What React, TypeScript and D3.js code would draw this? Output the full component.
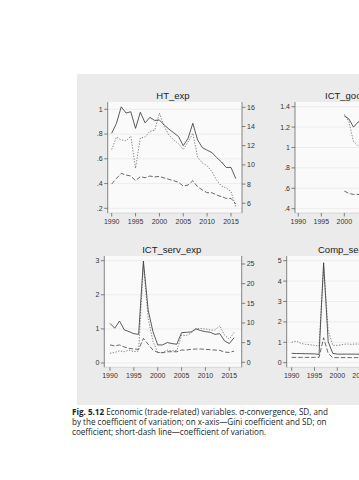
import React from "react";
import * as d3 from "d3";

// ---------- data ----------
const yearsFull = d3.range(1990, 2017);

// HT_exp
const htGini = [0.806, 0.887, 1.02, 0.97, 0.98, 0.846, 0.976, 0.89, 0.935, 0.91, 0.914, 0.873, 0.84, 0.81, 0.78, 0.706, 0.765, 0.887, 0.752, 0.69, 0.67, 0.65, 0.61, 0.574, 0.53, 0.53, 0.44];
const htSD = [0.396, 0.442, 0.482, 0.469, 0.461, 0.423, 0.456, 0.447, 0.461, 0.453, 0.458, 0.445, 0.434, 0.423, 0.41, 0.38, 0.388, 0.423, 0.374, 0.348, 0.326, 0.326, 0.307, 0.294, 0.28, 0.28, 0.235];
const htCV = [11.6, 12.9, 12.6, 12.5, 13.0, 9.65, 12.8, 12.9, 13.5, 13.6, 15.4, 14.0, 13.1, 12.6, 12.2, 11.6, 12.4, 13.3, 10.8, 10.2, 9.9, 9.3, 8.4, 7.8, 7.6, 7.2, 5.65];

// ICT_goods_exp (only the visible part, from 2000)
const goodsYears = [2000, 2001, 2002, 2003, 2004, 2005];
const goodsGini = [1.31, 1.28, 1.2, 1.25, 1.27, 1.24];
const goodsSD = [0.573, 0.55, 0.54, 0.54, 0.54, 0.53];
const goodsCV = [1.325, 1.253, 1.057, 1.015, 0.99, 0.97];

// ICT_serv_exp
const servGini = [1.16, 1.02, 1.23, 0.97, 0.92, 0.86, 0.84, 2.99, 1.55, 0.92, 0.53, 0.53, 0.6, 0.57, 0.55, 0.89, 0.9, 0.91, 1.0, 0.95, 0.92, 0.9, 0.84, 0.86, 0.65, 0.57, 0.74];
const servSD = [0.53, 0.5, 0.53, 0.47, 0.43, 0.41, 0.4, 0.72, 0.55, 0.38, 0.31, 0.3, 0.33, 0.33, 0.33, 0.38, 0.38, 0.4, 0.41, 0.41, 0.4, 0.39, 0.38, 0.37, 0.32, 0.31, 0.35];
const servCV = [2.3, 2.5, 2.9, 2.7, 3.1, 2.7, 2.9, 24.9, 11.2, 5.3, 2.5, 2.5, 3.1, 2.9, 3.0, 6.9, 6.8, 7.4, 8.6, 8.6, 8.5, 8.2, 8.2, 9.3, 6.9, 5.9, 7.6];

// Comp_serv_exp (visible part)
const compYears = d3.range(1990, 2006);
const compGini = [0.46, 0.45, 0.45, 0.44, 0.44, 0.43, 0.41, 4.9, 1.03, 0.46, 0.42, 0.42, 0.42, 0.42, 0.42, 0.42];
const compSD = [0.26, 0.26, 0.26, 0.26, 0.26, 0.26, 0.26, 1.22, 0.46, 0.25, 0.25, 0.25, 0.25, 0.25, 0.25, 0.25];
const compCV = [1.0, 1.06, 0.95, 0.9, 0.88, 0.85, 0.82, 4.7, 1.6, 0.85, 0.85, 0.88, 0.92, 0.9, 0.92, 0.9];

const xTicks = [1990, 1995, 2000, 2005, 2010, 2015];

const captionLines = [
  ["Fig. 5.12", " Economic (trade-related) variables. σ-convergence, SD, and"],
  ["", "by the coefficient of variation; on x-axis—Gini coefficient and SD; on"],
  ["", "coefficient; short-dash line—coefficient of variation."],
];

const fmt = (v: number) => {
  const s = d3.format("~g")(+v.toFixed(4));
  return s.replace(/^0\./, ".");
};

type PanelProps = {
  title: string;
  titleX: number;
  titleY: number;
  titleAnchor: "middle" | "start";
  rect: [number, number, number, number];
  x: d3.ScaleLinear<number, number>;
  yL: d3.ScaleLinear<number, number>;
  yR: d3.ScaleLinear<number, number> | null;
  leftTicks: number[];
  rightTicks: number[];
  years: number[];
  gini: number[];
  sd: number[];
  cv: number[];
  cvScale: d3.ScaleLinear<number, number>;
};

const Panel = (p: PanelProps) => {
  const [x0, y0, x1, y1] = p.rect;
  const line = (ys: number[], s: d3.ScaleLinear<number, number>) =>
    d3.line<number>().x((_, i) => p.x(p.years[i])).y((v) => s(v))(ys) || "";
  const axisColor = "#555";
  const labelColor = "#333";
  const ticks = xTicks.filter((t) => p.x(t) < 362);
  return (
    <g>
      <rect x={x0} y={y0} width={x1 - x0} height={y1 - y0} fill="#fafafa" />
      {p.leftTicks.map((t) => (
        <line key={"g" + t} x1={x0} x2={x1} y1={p.yL(t)} y2={p.yL(t)} stroke="#e4e4e4" strokeWidth={0.6} />
      ))}
      <line x1={x0} x2={x0} y1={y0} y2={y1} stroke={axisColor} strokeWidth={0.7} />
      {p.yR && <line x1={x1} x2={x1} y1={y0} y2={y1} stroke={axisColor} strokeWidth={0.7} />}
      <line x1={x0} x2={x1} y1={y1} y2={y1} stroke="#bbb" strokeWidth={0.5} />
      {p.leftTicks.map((t) => (
        <g key={"l" + t}>
          <line x1={x0 - 3.5} x2={x0} y1={p.yL(t)} y2={p.yL(t)} stroke={axisColor} strokeWidth={0.7} />
          <text x={x0 - 5} y={p.yL(t) + 2.4} fontSize={7} textAnchor="end" fill={labelColor}>{fmt(t)}</text>
        </g>
      ))}
      {p.yR && p.rightTicks.map((t) => (
        <g key={"r" + t}>
          <line x1={x1} x2={x1 + 3.5} y1={p.yR!(t)} y2={p.yR!(t)} stroke={axisColor} strokeWidth={0.7} />
          <text x={x1 + 5} y={p.yR!(t) + 2.4} fontSize={7} textAnchor="start" fill={labelColor}>{fmt(t)}</text>
        </g>
      ))}
      {ticks.map((t) => (
        <g key={"x" + t}>
          <line x1={p.x(t)} x2={p.x(t)} y1={y1} y2={y1 + 3.5} stroke={axisColor} strokeWidth={0.7} />
          <text x={p.x(t)} y={y1 + 10.5} fontSize={7} textAnchor="middle" fill={labelColor}>{t}</text>
        </g>
      ))}
      <path d={line(p.cv, p.cvScale)} fill="none" stroke="#666" strokeWidth={0.8} strokeDasharray="1.3,1.5" />
      <path d={line(p.sd, p.yL)} fill="none" stroke="#444" strokeWidth={0.8} strokeDasharray="4.5,2" />
      <path d={line(p.gini, p.yL)} fill="none" stroke="#333" strokeWidth={0.8} />
      <text x={p.titleX} y={p.titleY} fontSize={9.5} textAnchor={p.titleAnchor} fill="#222">{p.title}</text>
    </g>
  );
};

export default function App() {
  // panel 1: HT_exp
  const x1 = d3.scaleLinear().domain([1990, 2015]).range([111.7, 231]);
  const yl1 = d3.scaleLinear().domain([0.2, 1]).range([208.3, 109.3]);
  const yr1 = d3.scaleLinear().domain([6, 16]).range([203.3, 107.3]);
  // panel 2: ICT_goods_exp
  const x2 = d3.scaleLinear().domain([1990, 2000]).range([298.3, 344.3]);
  const yl2 = d3.scaleLinear().domain([0.4, 1.4]).range([208.7, 106.7]);
  // panel 3: ICT_serv_exp
  const x3 = d3.scaleLinear().domain([1990, 2015]).range([110, 229.3]);
  const yl3 = d3.scaleLinear().domain([0, 3]).range([363, 260.7]);
  const yr3 = d3.scaleLinear().domain([0, 25]).range([362.3, 264]);
  // panel 4: Comp_serv_exp
  const x4 = d3.scaleLinear().domain([1990, 2000]).range([291.7, 337.3]);
  const yl4 = d3.scaleLinear().domain([0, 5]).range([362.7, 260.7]);

  return (
    <svg width={359} height={480} style={{ position: "absolute", left: 0, top: 0, fontFamily: "'Liberation Sans', Arial, sans-serif" }}>
      <rect x={0} y={0} width={359} height={480} fill="#fff" />
      <rect x={77} y={74} width={300} height={331} fill="#ebebeb" />
      <Panel title="HT_exp" titleX={173} titleY={99} titleAnchor="middle" rect={[107.7, 102, 242, 213]} x={x1} yL={yl1} yR={yr1}
        leftTicks={[0.2, 0.4, 0.6, 0.8, 1]} rightTicks={[6, 8, 10, 12, 14, 16]} years={yearsFull} gini={htGini} sd={htSD} cv={htCV} cvScale={yr1} />
      <Panel title="ICT_goods_exp" titleX={325} titleY={99} titleAnchor="start" rect={[295, 102, 440, 213]} x={x2} yL={yl2} yR={null}
        leftTicks={[0.4, 0.6, 0.8, 1, 1.2, 1.4]} rightTicks={[]} years={goodsYears} gini={goodsGini} sd={goodsSD} cv={goodsCV} cvScale={yl2} />
      <Panel title="ICT_serv_exp" titleX={171.7} titleY={253} titleAnchor="middle" rect={[104.3, 256, 241.7, 367.3]} x={x3} yL={yl3} yR={yr3}
        leftTicks={[0, 1, 2, 3]} rightTicks={[0, 5, 10, 15, 20, 25]} years={yearsFull} gini={servGini} sd={servSD} cv={servCV} cvScale={yr3} />
      <Panel title="Comp_serv_exp" titleX={318} titleY={253} titleAnchor="start" rect={[286.7, 256, 440, 367.3]} x={x4} yL={yl4} yR={null}
        leftTicks={[0, 1, 2, 3, 4, 5]} rightTicks={[]} years={compYears} gini={compGini} sd={compSD} cv={compCV} cvScale={yl4} />
      {captionLines.map((l, i) => (
        <text key={i} x={72} y={415 + i * 9.8} fontSize={8.1} fill="#222" fontFamily="'Open Sans', sans-serif">
          {l[0] && <tspan fontWeight="bold">{l[0]}</tspan>}
          <tspan>{l[1]}</tspan>
        </text>
      ))}
    </svg>
  );
}
